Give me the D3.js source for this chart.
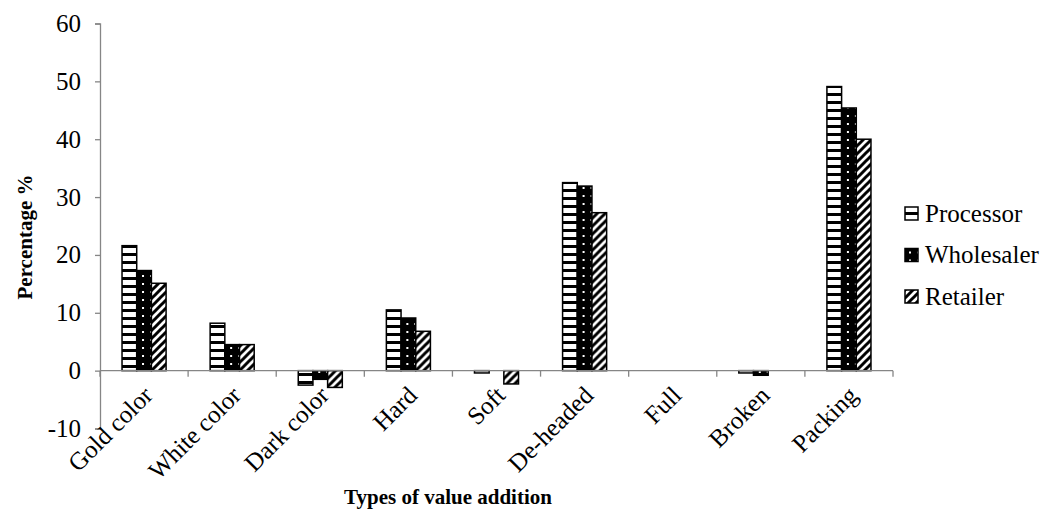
<!DOCTYPE html>
<html><head><meta charset="utf-8">
<script src="https://cdn.jsdelivr.net/npm/d3@7"></script>
<style>
body{margin:0;background:#fff;}
</style></head>
<body>
<svg id="chart" width="1049" height="510"></svg>
<script>
const categories = ["Gold color","White color","Dark color","Hard","Soft","De-headed","Full","Broken","Packing"];
const seriesNames = ["Processor","Wholesaler","Retailer"];
const processor  = [21.6, 8.2, -2.5, 10.5, -0.4, 32.5, 0, -0.4, 49.1];
const wholesaler = [17.3, 4.5, -1.5, 9.1, 0, 31.9, 0, -0.8, 45.4];
const retailer   = [15.1, 4.5, -2.9, 6.8, -2.3, 27.3, 0, 0, 40.0];
const yTicks = [-10, 0, 10, 20, 30, 40, 50, 60];
const values = [processor, wholesaler, retailer];

const FONT = "Liberation Serif";
const svg = d3.select("#chart");
const defs = svg.append("defs");

const p1 = defs.append("pattern").attr("id","pat0").attr("patternUnits","userSpaceOnUse").attr("width",8).attr("height",8);
p1.append("rect").attr("width",8).attr("height",8).attr("fill","#fff");
p1.append("rect").attr("y",5).attr("width",8).attr("height",3).attr("fill","#000");
const p2 = defs.append("pattern").attr("id","pat1").attr("patternUnits","userSpaceOnUse").attr("width",8).attr("height",8);
p2.append("rect").attr("width",8).attr("height",8).attr("fill","#000");
p2.append("rect").attr("x",4).attr("y",3).attr("width",2).attr("height",2).attr("fill","#fff");
const p3 = defs.append("pattern").attr("id","pat2").attr("patternUnits","userSpaceOnUse").attr("width",8).attr("height",8);
p3.append("rect").attr("width",8).attr("height",8).attr("fill","#fff");
p3.append("path").attr("d","M-2,10 L10,-2 M-2,2 L2,-2 M6,10 L10,6").attr("stroke","#000").attr("stroke-width",3);

const x0 = d3.scaleBand().domain(categories).range([100, 893]).paddingInner(0.5).paddingOuter(0.25);
const x1 = d3.scaleBand().domain(seriesNames).range([0, x0.bandwidth()]);
const y = d3.scaleLinear().domain([-10, 60]).range([428.5, 23.5]);

const yAxis = svg.append("g").attr("transform","translate(100,0)")
  .call(d3.axisLeft(y).tickValues(yTicks).tickFormat(d => String(d)).tickSize(5).tickPadding(14));
yAxis.attr("font-family", FONT).attr("font-size", 25);
yAxis.select(".domain").attr("stroke","#868686").attr("stroke-width",1.3);
yAxis.selectAll(".tick line").attr("stroke","#868686").attr("stroke-width",1.3);
yAxis.selectAll(".tick text").attr("fill","#000");

const groups = svg.append("g").selectAll("g").data(categories).join("g")
  .attr("transform", d => `translate(${x0(d)},0)`);
groups.selectAll("rect").data((c,i) => seriesNames.map((s,k) => ({s, k, v: values[k][i]})).filter(d => d.v !== 0))
  .join("rect")
  .attr("x", d => x1(d.s))
  .attr("width", x1.bandwidth())
  .attr("y", d => y(Math.max(0, d.v)))
  .attr("height", d => Math.abs(y(d.v) - y(0)))
  .attr("fill", d => `url(#pat${d.k})`)
  .attr("stroke","#000").attr("stroke-width",1.5);

const boundaries = d3.range(categories.length + 1).map(i => 100 + i * x0.step());
const xg = svg.append("g");
xg.append("line").attr("x1",100).attr("x2",893).attr("y1",y(0)).attr("y2",y(0)).attr("stroke","#868686").attr("stroke-width",1.3);
xg.selectAll("line.tk").data(boundaries).join("line").attr("class","tk")
  .attr("x1",d=>d).attr("x2",d=>d).attr("y1",y(0)).attr("y2",y(0)+6)
  .attr("stroke","#868686").attr("stroke-width",1.3);

svg.append("g").attr("font-family", FONT).attr("font-size", 25)
  .selectAll("text").data(categories).join("text")
  .attr("text-anchor","end")
  .attr("transform", d => `translate(${x0(d) + x0.bandwidth()/2 + 4},${y(0) + 20}) rotate(-45)`)
  .attr("dy","0.35em")
  .text(d => d);

svg.append("text").attr("x", 448).attr("y", 504).attr("text-anchor","middle")
  .attr("font-family", FONT).attr("font-size", 21).attr("font-weight","bold").text("Types of value addition");
svg.append("text").attr("transform","translate(32,237) rotate(-90)").attr("text-anchor","middle")
  .attr("font-family", FONT).attr("font-size", 21).attr("font-weight","bold").text("Percentage %");

const lg = svg.append("g").attr("font-family", FONT).attr("font-size", 25)
  .selectAll("g").data(seriesNames).join("g")
  .attr("transform",(d,i)=>`translate(905,${207 + i*41.5})`);
lg.append("rect").attr("width",13).attr("height",13)
  .attr("fill",(d,i)=>`url(#pat${i})`).attr("stroke","#000").attr("stroke-width",1.5);
lg.append("text").attr("x",20).attr("y",14.5).text(d=>d);
</script>
</body></html>
